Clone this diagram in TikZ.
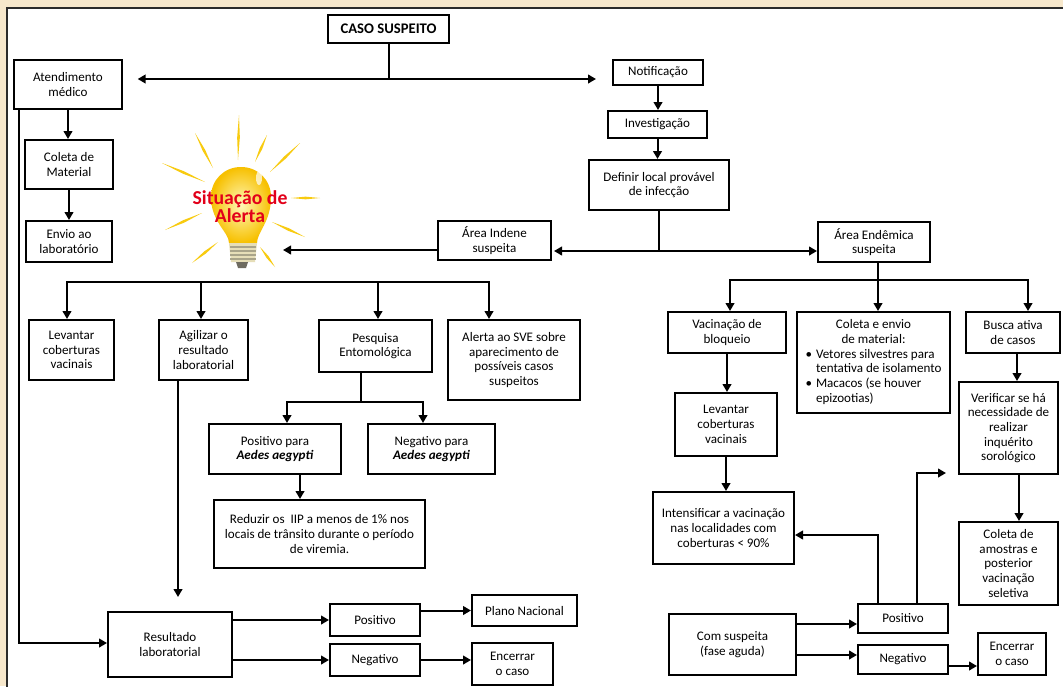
\documentclass[tikz,border=0pt]{standalone}
\usepackage{fontspec}
\setmainfont{Carlito}
\usetikzlibrary{arrows.meta,calc}
\definecolor{bgbeige}{HTML}{F7E8CC}
\definecolor{panelline}{HTML}{2B2B2B}
\definecolor{alertred}{HTML}{E2001A}
\definecolor{raycol}{HTML}{F8CB10}
\definecolor{bulbin}{HTML}{FFF8B8}
\definecolor{bulbout}{HTML}{F7C000}
\definecolor{basecol}{HTML}{E6DEB8}
\definecolor{basestripe}{HTML}{A9A48A}
\definecolor{tipcol}{HTML}{6E6B60}
\newcommand\lightray[2]{%
  \path (#1) -- (#2) coordinate[pos=0.5] (rm);
  \fill[raycol] (#1) -- ($(rm)!1pt!90:(#2)$) -- (#2) -- ($(rm)!1pt!-90:(#2)$) -- cycle;}
\begin{document}
\begin{tikzpicture}[x=0.75pt,y=-0.75pt,
  bx/.style 2 args={draw=black, line width=1.5pt, minimum width=#1*0.75pt, minimum height=#2*0.75pt, align=center, inner sep=1pt, font=\fontsize{9.8}{11}\selectfont},
  ln/.style={line width=1.5pt, line cap=rect},
  arr/.style={line width=1.5pt, -{Triangle[length=6pt,width=6.5pt]}}]
\useasboundingbox (0,0) rectangle (1063,686);
\clip (0,0) rectangle (1063,686);
\fill[bgbeige] (0,0) rectangle (1063,686);
\filldraw[fill=white, draw=panelline, line width=1.5pt] (7,8) rectangle (1080,700);

% ---- light bulb ----
\lightray{238,160}{239,115}
\lightray{213,168}{195,133}
\lightray{255,162}{267,135}
\lightray{270,172}{300,143}
\lightray{205,182}{162,163}
\lightray{291,198}{320,198}
\lightray{202,213}{165,230}
\lightray{272,222}{305,237}
\lightray{218,242}{192,263}
\lightray{260,247}{275,267}
\shade[inner color=bulbin, outer color=bulbout] (229,243) .. controls (229,232) and (211,222) .. (211,197) .. controls (211,180) and (224,167) .. (241,167) .. controls (258,167) and (271,180) .. (271,197) .. controls (271,222) and (257,232) .. (257,243) -- cycle;
\fill[white, opacity=0.7] (259,178) ellipse [x radius=3, y radius=7];
\fill[basecol] (229,243) -- (257,243) -- (255,262) -- (231,262) -- cycle;
\foreach \yy in {246,250,254,258} \fill[basestripe] (230,\yy) rectangle (256,\yy+1.5);
\fill[tipcol] (236,262) -- (248,262) -- (246,268) -- (238,268) -- cycle;
\node[text=alertred, font=\fontsize{14.8}{13.5}\selectfont\bfseries, align=center, inner sep=0pt] (alert) at (240,207) {Situação de\\Alerta};

% ---- nodes ----
\node[bx={121}{28}, font=\fontsize{11}{12}\selectfont\bfseries] (caso) at (388.5,29) {CASO SUSPEITO};
\node[bx={108}{49}] (aten) at (68,84.5) {Atendimento\\médico};
\node[bx={90}{25}] (notif) at (658,72.5) {Notificação};
\node[bx={99}{27}] (invest) at (657.5,124.5) {Investigação};
\node[bx={140}{50}] (definir) at (659,185) {Definir local provável\\de infecção};
\node[bx={113}{39}] (indene) at (494.5,240.5) {Área Indene\\suspeita};
\node[bx={112}{40}] (endem) at (874,242) {Área Endêmica\\suspeita};
\node[bx={88}{49}] (coleta) at (69,164.5) {Coleta de\\Material};
\node[bx={86}{41}] (envio) at (69,241.5) {Envio ao\\laboratório};
\node[bx={85}{60}] (lev1) at (71.5,350) {Levantar\\coberturas\\vacinais};
\node[bx={89}{60}] (agil) at (203.5,350) {Agilizar o\\resultado\\laboratorial};
\node[bx={113}{52}] (pesq) at (375.5,346) {Pesquisa\\Entomológica};
\node[bx={132}{80}] (alerta) at (514,360) {Alerta ao SVE sobre\\aparecimento de\\possíveis casos\\suspeitos};
\node[bx={132}{50}] (pos1) at (275,449) {Positivo para\\\textbf{\textit{Aedes aegypti}}};
\node[bx={127}{50}] (neg1) at (431.5,449) {Negativo para\\\textbf{\textit{Aedes aegypti}}};
\node[bx={211}{68}] (reduz) at (319.5,534) {Reduzir os\ \ IIP a menos de 1\% nos\\locais de trânsito durante o período\\de viremia.};
\node[bx={124}{65}] (result) at (170,644.5) {Resultado\\laboratorial};
\node[bx={90}{32}] (posL) at (375,620) {Positivo};
\node[bx={90}{32}] (negL) at (375,660) {Negativo};
\node[bx={105}{31}] (plano) at (524.5,610.5) {Plano Nacional};
\node[bx={81}{42}] (encL) at (512.5,664) {Encerrar\\o caso};
\node[bx={118}{41}] (vacin) at (727,332.5) {Vacinação de\\bloqueio};
\node[bx={153}{101}] (coletaE) at (873.5,362.5) {{\begin{tabular}{@{}l@{\hspace{3pt}}l@{}}\multicolumn{2}{@{}c@{}}{Coleta e envio}\\\multicolumn{2}{@{}c@{}}{de material:}\\\textbullet & Vetores silvestres para\\ & tentativa de isolamento\\\textbullet & Macacos (se houver\\ & epizootias)\end{tabular}}};
\node[bx={94}{41}] (busca) at (1013,332.5) {Busca ativa\\de casos};
\node[bx={102}{63}] (lev2) at (726,424.5) {Levantar\\coberturas\\vacinais};
\node[bx={141}{72}] (intens) at (723.5,528) {Intensificar a vacinação\\nas localidades com\\coberturas < 90\%};
\node[bx={99}{92}] (verif) at (1008.5,428) {Verificar se há\\necessidade de\\realizar\\inquérito\\sorológico};
\node[bx={99}{83}] (coletaA) at (1008.5,563.5) {Coleta de\\amostras e\\posterior\\vacinação\\seletiva};
\node[bx={127}{61}] (comsusp) at (732.5,644.5) {Com suspeita\\(fase aguda)};
\node[bx={90}{29}] (posR) at (903,618.5) {Positivo};
\node[bx={90}{29}] (negR) at (903,659.5) {Negativo};
\node[bx={68}{42}] (encR) at (1012,654) {Encerrar\\o caso};

% ---- connectors: top ----
\coordinate (j1) at (388,79);
\draw[ln] (caso.south) -- (caso.south |- j1);
\draw[arr, shorten >=11pt] (j1) -- (j1 -| aten.east);
\draw[arr, shorten >=12pt] (j1) -- (j1 -| notif.west);
\draw[arr] (notif.south) -- (notif.south |- invest.north);
\draw[arr] (invest.south) -- (invest.south |- definir.north);
\coordinate (j2) at (659,251);
\draw[ln] (definir.south) -- (j2);
\draw[arr, shorten >=1.5pt] (j2) -- (j2 -| indene.east);
\draw[arr] (j2) -- (j2 -| endem.west);
\coordinate (bulbR) at (283,250);
\draw[arr] (indene.west |- bulbR) -- (bulbR);

% ---- left column ----
\draw[arr] (aten.south) -- (aten.south |- coleta.north);
\draw[arr] (coleta.south) -- (coleta.south |- envio.north);
\coordinate (a7) at (19,643);
\draw[arr] (aten.south -| a7) -- (a7) -- (a7 -| result.west);

% ---- alert branches ----
\coordinate (b1) at (67,282);
\coordinate (b2) at (201,282);
\coordinate (b3) at (378,282);
\coordinate (b4) at (489,282);
\draw[ln] (b1) -- (b4);
\draw[arr] (b1) -- (b1 |- lev1.north);
\draw[arr] (b2) -- (b2 |- agil.north);
\draw[arr] (b3) -- (b3 |- pesq.north);
\draw[arr] (b4) -- (b4 |- alerta.north);
\coordinate (p0) at (361,402);
\coordinate (pL) at (287,402);
\coordinate (pR) at (423,402);
\draw[ln] (pesq.south -| p0) -- (p0);
\draw[ln] (pL) -- (pR);
\draw[arr] (pL) -- (pL |- pos1.north);
\draw[arr] (pR) -- (pR |- neg1.north);
\coordinate (a5) at (300,487);
\draw[arr] (pos1.south -| a5) -- (reduz.north -| a5);
\coordinate (a6) at (178,597);
\draw[arr] (agil.south -| a6) -- (a6);
\draw[arr] (result.east |- posL.west) -- (posL.west);
\draw[arr] (result.east |- negL.west) -- (negL.west);
\draw[arr] (posL.east |- plano.west) -- (plano.west);
\draw[arr] (negL.east) -- (negL.east -| encL.west);

% ---- right side ----
\coordinate (e0) at (878,280);
\coordinate (eL) at (730,280);
\coordinate (eR) at (1028,280);
\draw[ln] (endem.south -| e0) -- (e0);
\draw[ln] (eL) -- (eR);
\draw[arr] (eL) -- (eL |- vacin.north);
\draw[arr] (e0) -- (e0 |- coletaE.north);
\draw[arr] (eR) -- (eR |- busca.north);
\draw[arr] (vacin.south) -- (vacin.south |- lev2.north);
\draw[arr] (lev2.south) -- (lev2.south |- intens.north);
\coordinate (c1) at (1017,367);
\draw[arr] (busca.south -| c1) -- (verif.north -| c1);
\coordinate (c2) at (1019,497);
\draw[arr] (verif.south -| c2) -- (coletaA.north -| c2);
\coordinate (r1) at (796,624);
\draw[arr] (comsusp.east |- r1) -- (r1 -| posR.west);
\coordinate (r2) at (796,655);
\draw[arr] (comsusp.east |- r2) -- (r2 -| negR.west);
\coordinate (k4) at (950,666);
\draw[arr] (negR.east |- k4) -- (k4 -| encR.west);
\coordinate (k1) at (878,535);
\draw[arr] (posR.north -| k1) -- (k1) -- (k1 -| intens.east);
\coordinate (k2) at (917,473);
\coordinate (k3) at (946,473);
\draw[arr] (posR.north -| k2) -- (k2) -- (k3);
\end{tikzpicture}
\end{document}
